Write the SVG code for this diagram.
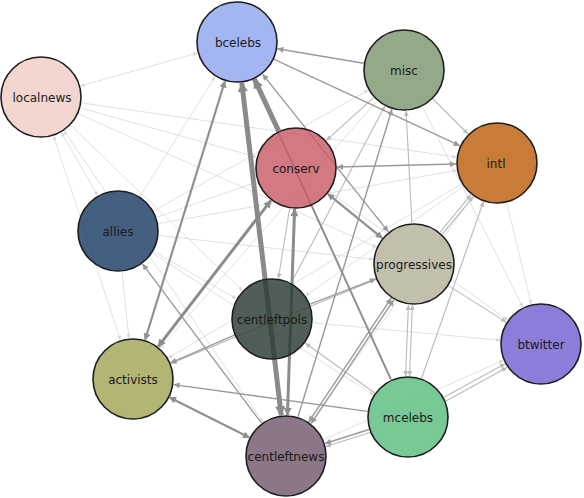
<svg xmlns="http://www.w3.org/2000/svg" width="584" height="498" viewBox="0 0 584 498">
<defs>
<style>
.e{fill:none;stroke-linecap:butt}
.e1{stroke:#8a8a8a;stroke-width:5;marker-end:url(#a1)}
.e1d{marker-start:url(#a1)}
.e2{stroke:#8c8c8c;stroke-width:3;marker-end:url(#a2);marker-start:url(#a2)}
.e3{stroke:#909090;stroke-width:2.2;marker-end:url(#a3)}
.e3d{marker-start:url(#a3)}
.e4{stroke:#9a9a9a;stroke-width:1.4;marker-end:url(#a4)}
.e4d{marker-start:url(#a4)}
.e5{stroke:#bababa;stroke-width:1.1;marker-end:url(#a5)}
.e5d{marker-start:url(#a5)}
.e6{stroke:#dddddd;stroke-width:0.9;marker-end:url(#a6)}
.e6d{marker-start:url(#a6)}
.n circle{stroke:#1e1e1e;stroke-width:1.6;fill-opacity:0.82}
.n text{font-family:"DejaVu Sans",sans-serif;font-size:12px;fill:#1a1a1a;text-anchor:middle}
</style>
<marker id="a1" viewBox="0 0 10 10" refX="9" refY="5" markerWidth="14" markerHeight="10" markerUnits="userSpaceOnUse" orient="auto-start-reverse"><path d="M0,0L10,5L0,10z" fill="#8a8a8a"/></marker>
<marker id="a2" viewBox="0 0 10 10" refX="9" refY="5" markerWidth="11" markerHeight="8" markerUnits="userSpaceOnUse" orient="auto-start-reverse"><path d="M0,0L10,5L0,10z" fill="#8c8c8c"/></marker>
<marker id="a3" viewBox="0 0 10 10" refX="9" refY="5" markerWidth="9" markerHeight="7" markerUnits="userSpaceOnUse" orient="auto-start-reverse"><path d="M0,0L10,5L0,10z" fill="#909090"/></marker>
<marker id="a4" viewBox="0 0 10 10" refX="10" refY="5" markerWidth="8" markerHeight="6" markerUnits="userSpaceOnUse" orient="auto-start-reverse"><path d="M0,0L10,5L0,10z" fill="#9a9a9a"/></marker>
<marker id="a5" viewBox="0 0 10 10" refX="10" refY="5" markerWidth="7" markerHeight="5" markerUnits="userSpaceOnUse" orient="auto-start-reverse"><path d="M0,0L10,5L0,10z" fill="#bababa"/></marker>
<marker id="a6" viewBox="0 0 10 10" refX="10" refY="5" markerWidth="6" markerHeight="4" markerUnits="userSpaceOnUse" orient="auto-start-reverse"><path d="M0,0L10,5L0,10z" fill="#d6d6d6"/></marker>
</defs>
<rect width="584" height="498" fill="#ffffff"/>
<g id="connectors">
<path class="e e6 e6d" d="M80.5 86L197.5 53"/>
<path class="e e6" d="M80.5 108L256.5 157"/>
<path class="e e6" d="M78.4 113.8L376.6 247.2"/>
<path class="e e6" d="M81.6 102.9L456.4 157.1"/>
<path class="e e6 e6d" d="M61.4 132.5L97.6 195.5"/>
<path class="e e6 e6d" d="M53.7 136L120.3 340"/>
<path class="e e6" d="M70.6 125.4L242.4 290.6"/>
<path class="e e6 e6d" d="M64.1 130.9L262.9 422.1"/>
<path class="e e6" d="M139.9 196.3L215.1 76.7"/>
<path class="e e6" d="M156.7 217.3L257.3 181.7"/>
<path class="e e6" d="M158.4 223.7L456.6 170.3"/>
<path class="e e6" d="M158.8 235.5L373.2 259.5"/>
<path class="e e6" d="M153.7 210.9L368.3 90.1"/>
<path class="e e6" d="M153.6 251.3L236.4 298.7"/>
<path class="e e6" d="M122.1 271.8L128.9 338.2"/>
<path class="e e6" d="M152.5 253.1L373.5 394.9"/>
<path class="e e6" d="M506.7 202.8L531.3 304.2"/>
<path class="e e6" d="M422.3 106.7L522.7 307.3"/>
<path class="e e5" d="M448.7 285.9L506.3 322.1"/>
<path class="e e6" d="M329.3 191.9L507.7 320.1"/>
<path class="e e6" d="M312.8 322.8L500.2 340.2"/>
<path class="e e6" d="M323.5 439.5L503.5 360.5"/>
<path class="e e6" d="M463.3 186.4L305.7 295.6"/>
<path class="e e6" d="M473 196.3L310 422.7"/>
<path class="e e6" d="M461.7 183.9L168.3 358.1"/>
<path class="e e6" d="M377 100.8L160 348.2"/>
<path class="e e5" d="M433 99L468 134"/>
<path class="e e5" d="M291.2 282.8L384.8 106.2"/>
<path class="e e5" d="M444 397.3L505 363.7"/>
<path class="e e5" d="M446 401L507 367.5"/>
<path class="e e5" d="M421.6 378.3L483.4 201.7"/>
<path class="e e5" d="M440 232.3L471 194.7"/>
<path class="e e5" d="M442.3 234.2L473.3 196.6"/>
<path class="e e5 e5d" d="M412.4 305L409.6 376"/>
<path class="e e5 e5d" d="M408.4 305L405.6 376"/>
<path class="e e5" d="M411.9 223L406.1 111"/>
<path class="e e5" d="M374.7 393L305.3 343"/>
<path class="e e5" d="M289.6 208.5L278.4 278.5"/>
<path class="e e5" d="M373.6 97.6L326.4 140.4"/>
<path class="e e5" d="M376 279.5L170.9 363.5"/>
<path class="e e5" d="M369.9 432.4L325.9 446.4"/>
<path class="e e4" d="M298 416.8L392 109.2"/>
<path class="e e4" d="M274.2 59.3L459.8 145.7"/>
<path class="e e4" d="M363.6 63.2L277.4 48.8"/>
<path class="e e4" d="M234.4 335.2L170.6 362.8"/>
<path class="e e4" d="M367.4 411.4L173.6 384.6"/>
<path class="e e4" d="M369 429.5L325 443.5"/>
<path class="e e4 e4d" d="M308.7 421.9L391.3 298.1"/>
<path class="e e4 e4d" d="M311.2 423.6L393.8 299.8"/>
<path class="e e4" d="M310.2 304.2L375.8 278.8"/>
<path class="e e4 e4d" d="M337 167L456 164"/>
<path class="e e4" d="M261.5 423.2L142.5 263.8"/>
<path class="e e4 e4d" d="M262.5 74.1L388.4 231.9"/>
<path class="e e4" style="stroke-width:2;stroke:#8e8e8e" d="M391 379.7L254 79.3"/>
<path class="e e3 e3d" d="M145.1 339.8L224.9 81.2"/>
<path class="e e3 e3d" d="M169.6 397.4L249.4 437.6"/>
<path class="e e3 e3d" d="M327.8 193.9L382.2 238.1"/>
<path class="e e2" d="M271 200.4L158.1 346.6"/>
<path class="e e2" d="M294.6 209L287.4 415"/>
<path class="e e1" d="M278.6 130.9L254.4 79.1"/>
<path class="e e1 e1d" d="M281.2 415.3L241.8 82.7"/>
</g>
<g id="node-bcelebs" class="n"><circle cx="237" cy="42" r="40" fill="#8fa6ef"/><text x="238" y="46.5">bcelebs</text></g>
<g id="node-localnews" class="n"><circle cx="41" cy="97" r="40" fill="#efcdc4"/><text x="42" y="101.5">localnews</text></g>
<g id="node-misc" class="n"><circle cx="404" cy="70" r="40" fill="#7b9670"/><text x="404" y="74.5">misc</text></g>
<g id="node-intl" class="n"><circle cx="497" cy="163" r="40" fill="#bd5f0c"/><text x="496" y="167.5">intl</text></g>
<g id="node-conserv" class="n"><circle cx="296" cy="168" r="40" fill="#c85c68"/><text x="296" y="172.5">conserv</text></g>
<g id="node-allies" class="n"><circle cx="118" cy="231" r="40" fill="#1c3c64"/><text x="118" y="235.5">allies</text></g>
<g id="node-progressives" class="n"><circle cx="414" cy="264" r="40" fill="#b6b19b"/><text x="414" y="268.5">progressives</text></g>
<g id="node-centleftpols" class="n"><circle cx="272" cy="319" r="40" fill="#283c33"/><text x="272" y="323.5">centleftpols</text></g>
<g id="node-btwitter" class="n"><circle cx="541" cy="344" r="40" fill="#7160d1"/><text x="541" y="348.5">btwitter</text></g>
<g id="node-activists" class="n"><circle cx="133" cy="379" r="40" fill="#a2a557"/><text x="133" y="383.5">activists</text></g>
<g id="node-mcelebs" class="n"><circle cx="408" cy="417" r="40" fill="#59bd7e"/><text x="408" y="421.5">mcelebs</text></g>
<g id="node-centleftnews" class="n"><circle cx="286" cy="456" r="40" fill="#71596d"/><text x="286" y="460.5">centleftnews</text></g>
</svg>
